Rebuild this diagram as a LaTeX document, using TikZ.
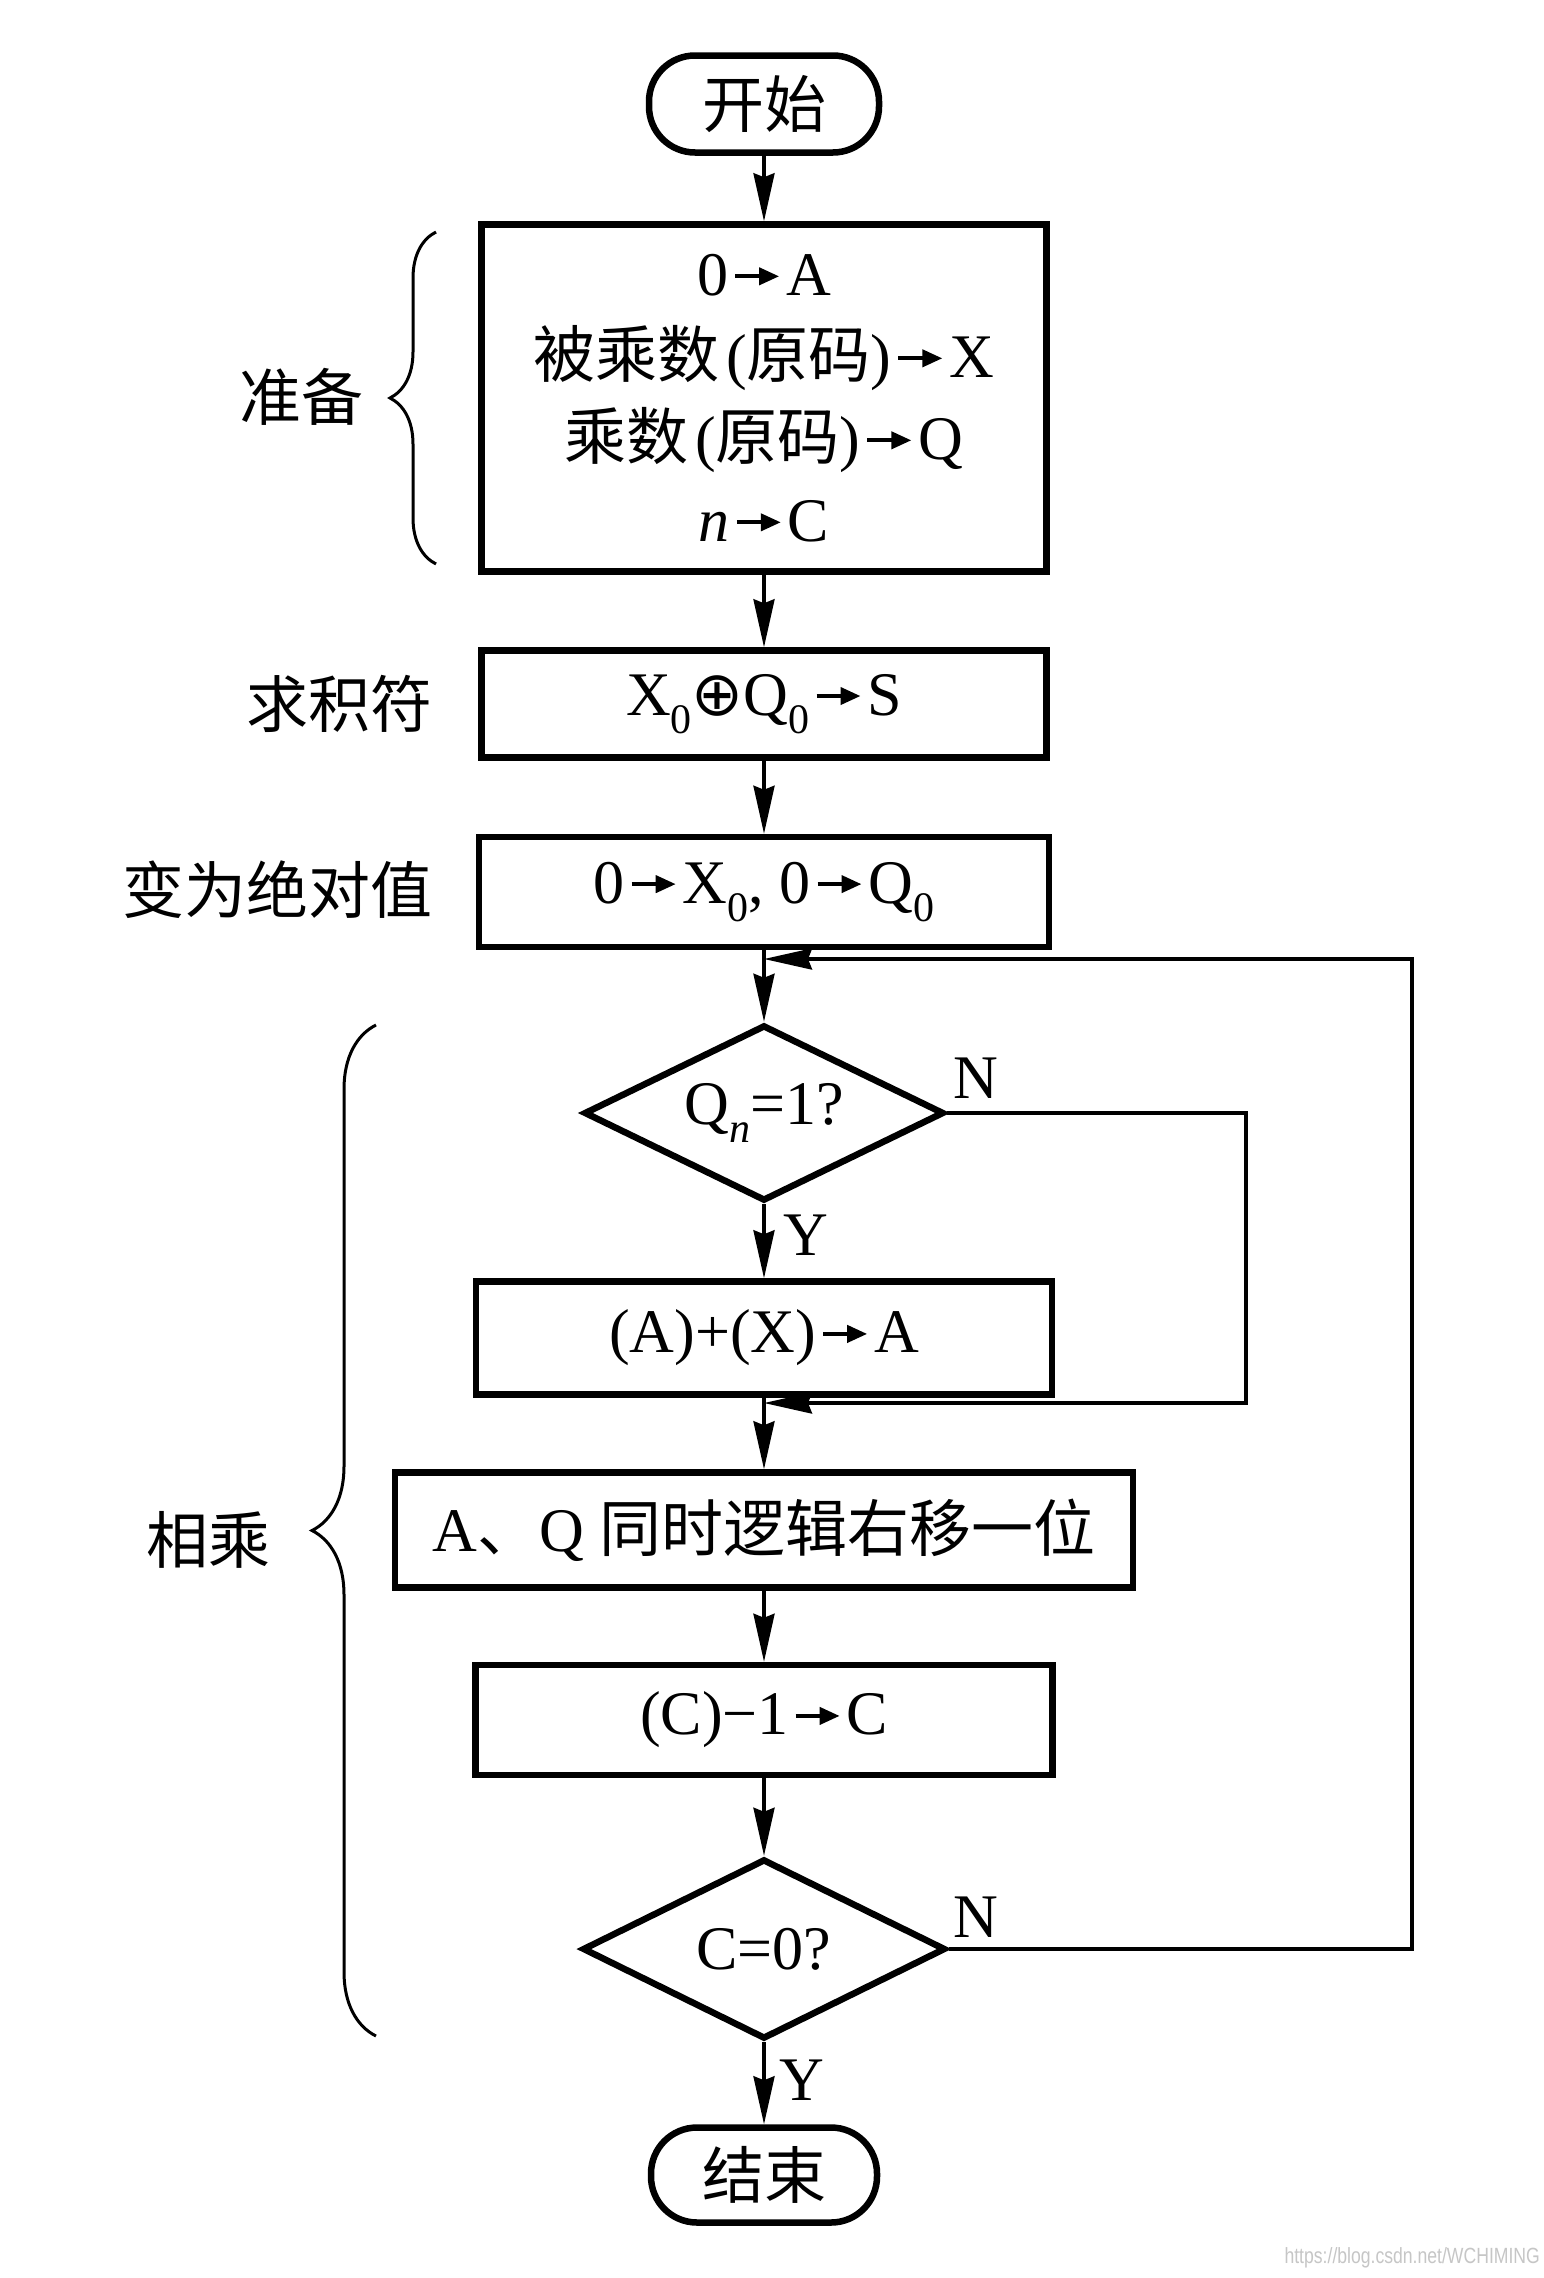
\documentclass[tikz,border=0pt]{standalone}
\usepackage{fontspec}
\setmainfont{Liberation Serif}
\newfontfamily\cjk{Noto Sans CJK SC}
\newfontfamily\symf{DejaVu Sans}
\newfontfamily\wmfont{Liberation Sans}
\usetikzlibrary{shapes.geometric,arrows.meta,decorations.pathreplacing}
\newcommand\subs[1]{\raisebox{-0.3em}{\fontsize{42}{42}\selectfont #1}}
\newcommand\ar{\hspace{5pt}\tikz[baseline=0pt,x=1pt,y=1pt]{\draw[line width=4pt,-{Triangle[length=20pt,width=17pt]}] (0,19) -- (44,19);}\hspace{5pt}}
\begin{document}
\begin{tikzpicture}[x=1pt,y=-1pt,
  box/.style={draw,line width=6.5pt,inner sep=0pt,align=center,font=\fontsize{62}{82}\selectfont},
  term/.style={box,rounded corners=46pt},
  decision/.style={draw,diamond,aspect=2,line width=6.5pt,inner sep=0pt,font=\fontsize{62}{74}\selectfont},
  flow/.style={line width=3.5pt,-{Stealth[length=48pt,width=21pt,inset=4pt]}},
  lbl/.style={font=\cjk\fontsize{62}{74}\selectfont,inner sep=0pt},
  yn/.style={font=\fontsize{62}{70}\selectfont,inner sep=0pt},
  bracestyle/.style={line width=3pt,decorate},
]
\useasboundingbox (0,0) rectangle (1544,2278);
\fill[white] (0,0) rectangle (1544,2278);

\node[term,minimum width=230pt,minimum height=97pt] (start) at (764,104) {\cjk 开始};
\node[box,minimum width=565pt,minimum height=347pt] (prep) at (764,398)
  {0\ar A\\ {\cjk 被乘数}\hspace{0.1em}({\cjk 原码})\ar X\\ {\cjk 乘数}\hspace{0.1em}({\cjk 原码})\ar Q\\ \textit{n}\ar C};
\node[box,minimum width=565pt,minimum height=107pt] (sign) at (764,704)
  {X\subs{0}{\symf ⊕}Q\subs{0}\ar S};
\node[box,minimum width=570pt,minimum height=110pt] (abs) at (764,892)
  {0\ar X\subs{0}, 0\ar Q\subs{0}};
\node[decision,minimum width=360pt,minimum height=176pt] (d1) at (764,1113)
  {Q\subs{\textit{n}}=1?};
\node[box,minimum width=576pt,minimum height=113pt] (add) at (764,1338) {(A)+(X)\ar A};
\node[box,minimum width=738pt,minimum height=115pt] (shift) at (764,1530)
  {A{\cjk 、}Q\ {\cjk 同时逻辑右移一位}};
\node[box,minimum width=577pt,minimum height=110pt] (dec) at (764,1720) {(C)−1\ar C};
\node[decision,minimum width=363pt,minimum height=180pt] (d2) at (764,1949) {C=0?};
\node[term,minimum width=226pt,minimum height=95pt] (end) at (764,2175) {\cjk 结束};

\coordinate (jn1) at (764,1403);
\coordinate (jn2) at (764,959);
\coordinate (c1) at (1246,1403);
\coordinate (c2) at (1412,959);

\draw[flow] (start) -- (prep);
\draw[flow] (prep) -- (sign);
\draw[flow] (sign) -- (abs);
\draw[flow] (abs) -- (d1);
\draw[flow] (d1) -- (add);
\draw[flow] (add) -- (shift);
\draw[flow] (shift) -- (dec);
\draw[flow] (dec) -- (d2);
\draw[flow] (d2) -- (end);
\draw[flow] (d1.east) -| (c1) -- (jn1);
\draw[flow] (d2.east) -| (c2) -- (jn2);

\node[yn] (n1) at (976,1078) {N};
\node[yn] (y1) at (806,1235) {Y};
\node[yn] (n2) at (976,1917) {N};
\node[yn] (y2) at (802,2080) {Y};

\draw[bracestyle,decoration={brace,amplitude=46pt}] (436,564) -- (436,232);
\draw[bracestyle,decoration={brace,amplitude=64pt}] (376,2036) -- (376,1025);

\node[lbl] (l1) at (301,397) {准备};
\node[lbl,anchor=east] (l2) at (433,704) {求积符};
\node[lbl,anchor=east] (l3) at (433,890) {变为绝对值};
\node[lbl] (l4) at (208,1540) {相乘};

\node[font=\wmfont\fontsize{22}{22}\selectfont,text=gray!45,anchor=east,inner sep=0pt,xscale=0.8] (wm) at (1540,2258) {https://blog.csdn.net/WCHIMING};
\end{tikzpicture}
\end{document}
